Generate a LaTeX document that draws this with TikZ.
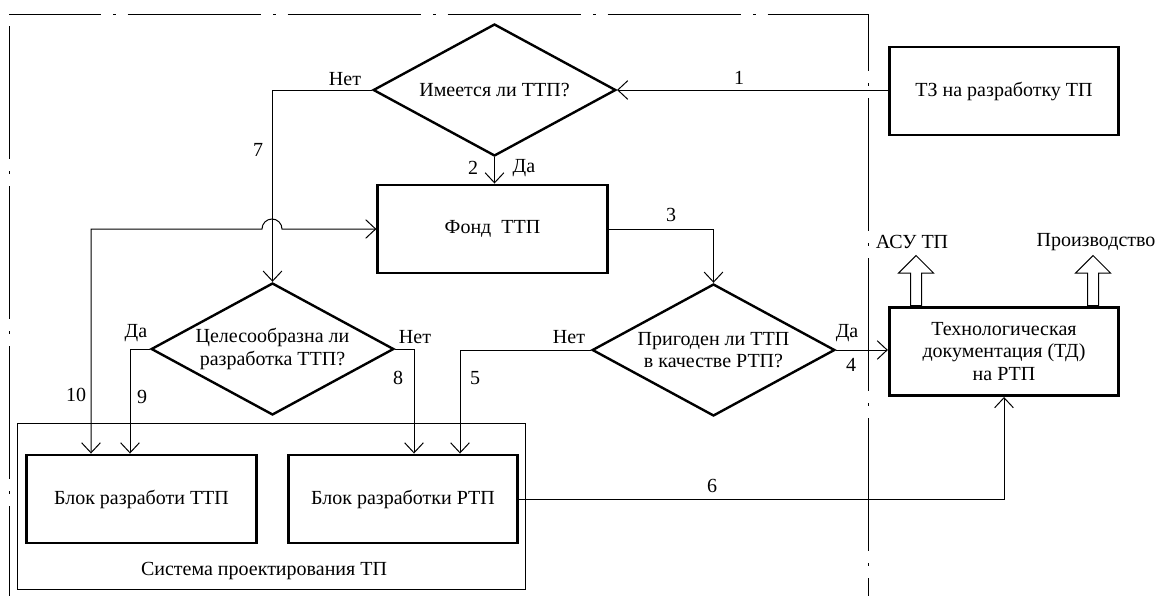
\documentclass[tikz,border=0pt]{standalone}
\usepackage{fontspec}
\setmainfont{Liberation Serif}
\usetikzlibrary{shapes.geometric,shapes.arrows,arrows.meta}

\begin{document}
\begin{tikzpicture}[x=0.75pt,y=-0.75pt,font=\fontsize{15}{17}\selectfont]
        % Define styles
        \tikzset{
            decision/.style={diamond, aspect=1.84, draw, line width=1.8pt, minimum width=182pt, minimum height=99pt, inner sep=0pt, align=center},
            block/.style={rectangle, draw, line width=2.2pt, minimum width=172pt, minimum height=66pt, align=center},
            frame/.style={line width=0.75pt, dash pattern=on 100pt off 9pt on 2pt off 9pt},
            arrow/.style={->, >={Straight Barb[length=7.5pt,width=14pt]}, line width=0.75pt},
            bigarrow/.style={single arrow, draw, line width=0.75pt, shape border rotate=90, minimum height=37.5pt, minimum width=26pt, single arrow head extend=9pt, inner sep=3.75pt}
        }
        \useasboundingbox (0,0) rectangle (1156,596);

        % Frame
        \draw[frame, dash phase=31pt] (9,14) -- (868,14);
        \draw[frame, dash phase=57pt] (868,14) -- (868,596);
        \draw[frame, dash phase=111pt] (9,14) -- (9,596);

        % Nodes
        \node[decision] (decision_node_1) at (494.5,90) {Имеется ли ТТП?};
        \node[block] (box_tz) at (1004,91) {ТЗ на разработку ТП};
        \node[block] (box_fond) at (492.5,229) {Фонд\ \ ТТП};
        \node[decision] (decision_node_2) at (272.5,349) {Целесообразна ли\\разработка ТТП?};
        \node[decision] (decision_node_3) at (713.5,350) {Пригоден ли ТТП\\в качестве РТП?};
        \node[block] (box_td) at (1004,351.5) {Технологическая\\документация (ТД)\\на РТП};
        \node[draw, line width=0.75pt, minimum width=381pt, minimum height=125pt] (system_box) at (271,506.5) {};
        \node[block] (box_ttp) at (141.5,499) {Блок разработи ТТП};
        \node[block] (box_rtp) at (403,499) {Блок разработки РТП};
        \node (system_label) at (264,571) {Система проектирования ТП};

        % Outputs
        \node[bigarrow, anchor=tail] (arrow_asu) at (box_td.north -| 916,0) {};
        \node[bigarrow, anchor=tail] (arrow_prod) at (box_td.north -| 1093,0) {};
        \node (label_asu) at (912,242) {АСУ ТП};
        \node (label_prod) at (1096,242) {Производство};

        % Arrows
        \draw[arrow] (box_tz.west |- decision_node_1.east) -- (decision_node_1.east);
        \draw[arrow] (decision_node_1.south) -- (decision_node_1.south |- box_fond.north);
        \draw[arrow] (decision_node_1.west) -| (decision_node_2.north);
        \draw[arrow] (box_fond.east) -| (decision_node_3.north);
        \draw[arrow] (decision_node_3.east) -- (box_td.west |- decision_node_3.east);
        \draw[arrow] (decision_node_3.west) -| (box_rtp.north -| 460,0);
        \draw[arrow] (decision_node_2.east) -| (box_rtp.north -| 414,0);
        \draw[arrow] (decision_node_2.west) -| (box_ttp.north -| 130,0);
        \draw[arrow, <->] (box_ttp.north -| 91,0) |- (262,229) arc[start angle=180, end angle=0, radius=7.5pt] -- (box_fond.west);
        \draw[arrow] (box_rtp.east) -| (box_td.south);

        % Labels
        \node (label_no_1) at (345,79) {Нет};
        \node (label_1) at (739,78) {1};
        \node (label_7) at (258,150) {7};
        \node (label_2) at (473,168) {2};
        \node (label_yes_1) at (524,168) {Да};
        \node (label_3) at (671,215) {3};
        \node (label_yes_2) at (136,333) {Да};
        \node (label_no_2) at (415,337) {Нет};
        \node (label_10) at (76,395) {10};
        \node (label_9) at (142,397) {9};
        \node (label_8) at (398,378) {8};
        \node (label_5) at (475,378) {5};
        \node (label_no_3) at (569,337) {Нет};
        \node (label_yes_3) at (847,333) {Да};
        \node (label_4) at (851,365) {4};
        \node (label_6) at (712,486) {6};
    \end{tikzpicture}
\end{document}
